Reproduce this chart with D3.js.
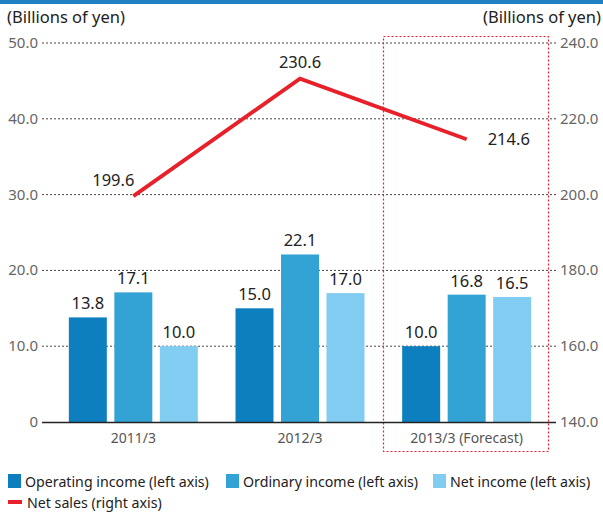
<!DOCTYPE html>
<meta charset="utf-8">
<script src="https://d3js.org/d3.v7.min.js"></script>
<style>
body { margin: 0; background: #fff; }
text { font-family: "Noto Sans", sans-serif; }
</style>
<svg id="chart" width="603" height="513"></svg>
<script>
// data
const years = ["2011/3", "2012/3", "2013/3 (Forecast)"]
const operatingIncome = [13.8, 15.0, 10.0]
const ordinaryIncome = [17.1, 22.1, 16.8]
const netIncome = [10.0, 17.0, 16.5]
const netSales = [199.6, 230.6, 214.6]
const leftTicks = [0, 10, 20, 30, 40, 50]
const rightTicks = [140, 160, 180, 200, 220, 240]
const seriesNames = ["Operating income (left axis)", "Ordinary income (left axis)", "Net income (left axis)"]
const colors = ["#0e7fbe", "#33a2d4", "#80cdf1"]
const red = "#e8202a"

const svg = d3.select("#chart")

// top rule
svg.append("rect").attr("x", 0).attr("y", 0).attr("width", 603).attr("height", 4).attr("fill", "#1f80c4")

const x = d3.scaleBand().domain(years).range([50, 550])
const yL = d3.scaleLinear().domain([0, 50]).range([422, 43])
const yR = d3.scaleLinear().domain([140, 240]).range([422, 43])

// grid
svg.append("g").selectAll("line")
  .data(leftTicks.filter(d => d > 0))
  .join("line")
    .attr("x1", 42).attr("x2", 556)
    .attr("y1", d => yL(d)).attr("y2", d => yL(d))
    .attr("stroke", "#444").attr("stroke-width", 1).attr("stroke-dasharray", "2,2")

// forecast box
svg.append("rect")
  .attr("x", 383.5).attr("y", 36.5).attr("width", 165).attr("height", 415)
  .attr("fill", "none").attr("stroke", red).attr("stroke-width", 1.2).attr("stroke-dasharray", "2,2")

// left/right tick labels
svg.append("g").selectAll("text")
  .data(leftTicks).join("text")
    .attr("x", 38).attr("y", d => yL(d) + 5)
    .attr("text-anchor", "end").attr("font-size", 15).attr("fill", "#666")
    .text(d => d === 0 ? "0" : d3.format(".1f")(d))
svg.append("g").selectAll("text")
  .data(rightTicks).join("text")
    .attr("x", 560).attr("y", d => yR(d) + 5)
    .attr("font-size", 15).attr("fill", "#666")
    .text(d => d3.format(".1f")(d))

svg.append("text").attr("x", 7).attr("y", 23).attr("font-size", 16.5).attr("fill", "#222").text("(Billions of yen)")
svg.append("text").attr("x", 601).attr("y", 23).attr("text-anchor", "end").attr("font-size", 16.5).attr("fill", "#222").text("(Billions of yen)")

// bars
const series = [operatingIncome, ordinaryIncome, netIncome]
const bw = 38, step = 45.5
series.forEach((vals, s) => {
  const g = svg.append("g")
  g.selectAll("rect").data(vals).join("rect")
    .attr("x", (d, i) => x(years[i]) + x.bandwidth() / 2 + (s - 1) * step - bw / 2)
    .attr("y", d => yL(d))
    .attr("width", bw)
    .attr("height", d => yL(0) - yL(d))
    .attr("fill", colors[s])
  g.selectAll("text").data(vals).join("text")
    .attr("x", (d, i) => x(years[i]) + x.bandwidth() / 2 + (s - 1) * step)
    .attr("y", d => yL(d) - 8)
    .attr("text-anchor", "middle").attr("font-size", 16.5).attr("fill", "#222")
    .text(d => d.toFixed(1))
})

// baseline
svg.append("line").attr("x1", 42).attr("x2", 556).attr("y1", 422.5).attr("y2", 422.5).attr("stroke", "#222").attr("stroke-width", 1.5)

// x labels
svg.append("g").selectAll("text").data(years).join("text")
  .attr("x", d => x(d) + x.bandwidth() / 2).attr("y", 443)
  .attr("text-anchor", "middle").attr("font-size", 14).attr("fill", "#555")
  .text(d => d)

// net sales line
const cx = (d, i) => x(years[i]) + x.bandwidth() / 2
svg.append("path")
  .datum(netSales)
  .attr("d", d3.line().x(cx).y(d => yR(d)))
  .attr("fill", "none").attr("stroke", red).attr("stroke-width", 3.8)

const labelDx = [-20, 0, 21]
const labelDy = [-10, -11, 6]
const labelAnchor = ["middle", "middle", "start"]
svg.append("g").selectAll("text").data(netSales).join("text")
  .attr("x", (d, i) => cx(d, i) + labelDx[i])
  .attr("y", (d, i) => yR(d) + labelDy[i])
  .attr("text-anchor", (d, i) => labelAnchor[i])
  .attr("font-size", 16.5).attr("fill", "#222")
  .text(d => d.toFixed(1))

// legend
const legX = [8, 226, 433]
seriesNames.forEach((name, s) => {
  svg.append("rect").attr("x", legX[s]).attr("y", 474).attr("width", 13).attr("height", 14).attr("fill", colors[s])
  svg.append("text").attr("x", legX[s] + 17).attr("y", 487).attr("font-size", 14.2).attr("fill", "#222").text(name)
})
svg.append("rect").attr("x", 8).attr("y", 500).attr("width", 14).attr("height", 4).attr("fill", red)
svg.append("text").attr("x", 27).attr("y", 508).attr("font-size", 14.2).attr("fill", "#222").text("Net sales (right axis)")
</script>
